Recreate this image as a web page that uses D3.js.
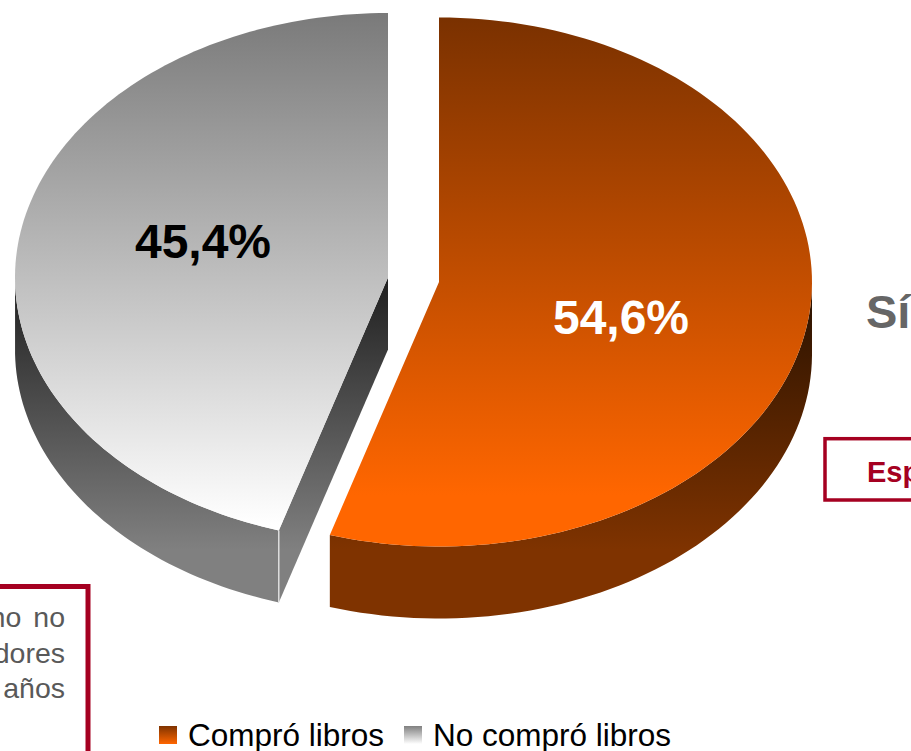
<!doctype html>
<html lang="es">
<head>
    <meta charset="utf-8">
    <title>Compra de libros</title>
    <script src="https://d3js.org/d3.v7.min.js"></script>
    <style>
        html, body { margin: 0; padding: 0; background: #fff; overflow: hidden; }
        svg { display: block; }
        text { font-family: "Liberation Sans", Arial, sans-serif; }
    </style>
</head>
<body>
<script>
    // Data
    const categories = ["Compró libros", "No compró libros"];
    const values = [54.6, 45.4];
    const valueLabels = ["54,6%", "45,4%"];
    const noteLines = ["mo no", "dores", "años"];

    // Dimensions
    const width = 911;
    const height = 751;
    const rx = 373;
    const ry = 264.5;
    const depth = 72;
    const centers = [{ x: 439, y: 282 }, { x: 388, y: 277.5 }];
    const cutShift = 0.008; // the original's cut sits a hair further round
    const crimson = "#a50021";

    const svg = d3.select("body").append("svg")
        .attr("width", width)
        .attr("height", height);
    const defs = svg.append("defs");

    function addGradient(id, from, to, y1, y2) {
        const g = defs.append("linearGradient").attr("id", id).attr("x1", 0).attr("x2", 0);
        if (y1 !== undefined) {
            g.attr("gradientUnits", "userSpaceOnUse").attr("y1", y1).attr("y2", y2);
        } else {
            g.attr("y1", 0).attr("y2", 1);
        }
        g.append("stop").attr("offset", 0).attr("stop-color", from);
        g.append("stop").attr("offset", 1).attr("stop-color", to);
    }

    addGradient("orangeTop", "#7a3100", "#ff6600", 17, 495);
    addGradient("grayTop", "#7a7a7a", "#ffffff", 13, 525);
    addGradient("orangeSide", "#2a1200", "#7f3300", 290, 550);
    addGradient("graySide", "#222222", "#808080", 285, 550);
    addGradient("orangeKey", "#7f3300", "#ff6600");
    addGradient("grayKey", "#808080", "#ffffff");

    const topFill = ["url(#orangeTop)", "url(#grayTop)"];
    const sideFill = ["url(#orangeSide)", "url(#graySide)"];
    const keyFill = ["url(#orangeKey)", "url(#grayKey)"];

    const slices = d3.pie().sort(null)(values);
    slices[0].endAngle += cutShift;
    slices[1].startAngle += cutShift;

    const sx = d3.scaleLinear().domain([-1, 1]);
    const sy = d3.scaleLinear().domain([-1, 1]);

    function rimPoint(a, c) {
        sx.range([c.x - rx, c.x + rx]);
        sy.range([c.y - ry, c.y + ry]);
        return [sx(Math.sin(a)), sy(-Math.cos(a))];
    }

    const line = d3.line();

    slices.forEach((s, i) => {
        const c = centers[i];
        const steps = d3.range(0, 121).map(t => s.startAngle + (s.endAngle - s.startAngle) * t / 120);
        const front = steps.filter(a => a >= Math.PI / 2 && a <= Math.PI * 1.5);

        // outer wall, only the part facing the viewer
        const upper = front.map(a => rimPoint(a, c));
        const lower = upper.map(p => [p[0], p[1] + depth]).reverse();
        svg.append("path")
            .attr("d", line(upper.concat(lower)) + "Z")
            .attr("fill", sideFill[i]);

        // cut wall of the gray slice can be seen, the orange one is hidden
        if (i === 1) {
            const edge = rimPoint(s.startAngle, c);
            const cut = [[c.x, c.y], edge, [edge[0], edge[1] + depth], [c.x, c.y + depth]];
            svg.append("path")
                .attr("d", line(cut) + "Z")
                .attr("fill", sideFill[i]);
            svg.append("line")
                .attr("x1", edge[0]).attr("y1", edge[1])
                .attr("x2", edge[0]).attr("y2", edge[1] + depth)
                .attr("stroke", "#f2f2f2")
                .attr("stroke-width", 1.2);
        }

        // top face
        const rim = steps.map(a => rimPoint(a, c));
        svg.append("path")
            .attr("d", line([[c.x, c.y]].concat(rim)) + "Z")
            .attr("fill", topFill[i]);
    });

    // Value labels
    const labelPos = [{ x: 621, y: 334, fill: "#ffffff" }, { x: 203, y: 258, fill: "#000000" }];
    svg.selectAll(".value")
        .data(valueLabels)
        .enter().append("text")
        .attr("class", "value")
        .attr("x", (d, i) => labelPos[i].x)
        .attr("y", (d, i) => labelPos[i].y)
        .attr("text-anchor", "middle")
        .attr("font-size", 48)
        .attr("font-weight", "bold")
        .attr("fill", (d, i) => labelPos[i].fill)
        .text(d => d);

    // Text cut off by the right edge
    svg.append("text")
        .attr("x", 866).attr("y", 328)
        .attr("font-size", 47).attr("font-weight", "bold").attr("fill", "#666666")
        .text("Sí");

    svg.append("rect")
        .attr("x", 825).attr("y", 438.7)
        .attr("width", 120).attr("height", 61.3)
        .attr("fill", "none").attr("stroke", crimson).attr("stroke-width", 3.5);
    svg.append("text")
        .attr("x", 867).attr("y", 482)
        .attr("font-size", 29).attr("font-weight", "bold").attr("fill", crimson)
        .text("Esp");

    // Note box cut off by the left and bottom edges
    svg.append("rect")
        .attr("x", -40).attr("y", 586.5)
        .attr("width", 128).attr("height", 220)
        .attr("fill", "none").attr("stroke", crimson).attr("stroke-width", 5);
    svg.selectAll(".note")
        .data(noteLines)
        .enter().append("text")
        .attr("class", "note")
        .attr("x", 65)
        .attr("y", (d, i) => 627 + i * 35.5)
        .attr("text-anchor", "end")
        .attr("font-size", 28.5)
        .attr("word-spacing", 4)
        .attr("fill", "#595959")
        .text(d => d);

    // Legend
    const keyX = [159, 404];
    const legend = svg.selectAll(".key")
        .data(categories)
        .enter().append("g")
        .attr("class", "key")
        .attr("transform", (d, i) => `translate(${keyX[i]},726)`);
    legend.append("rect")
        .attr("width", 18).attr("height", 18)
        .attr("fill", (d, i) => keyFill[i]);
    legend.append("text")
        .attr("x", 29).attr("y", 20)
        .attr("font-size", 31.5)
        .attr("fill", "#000")
        .text(d => d);
</script>
</body>
</html>
